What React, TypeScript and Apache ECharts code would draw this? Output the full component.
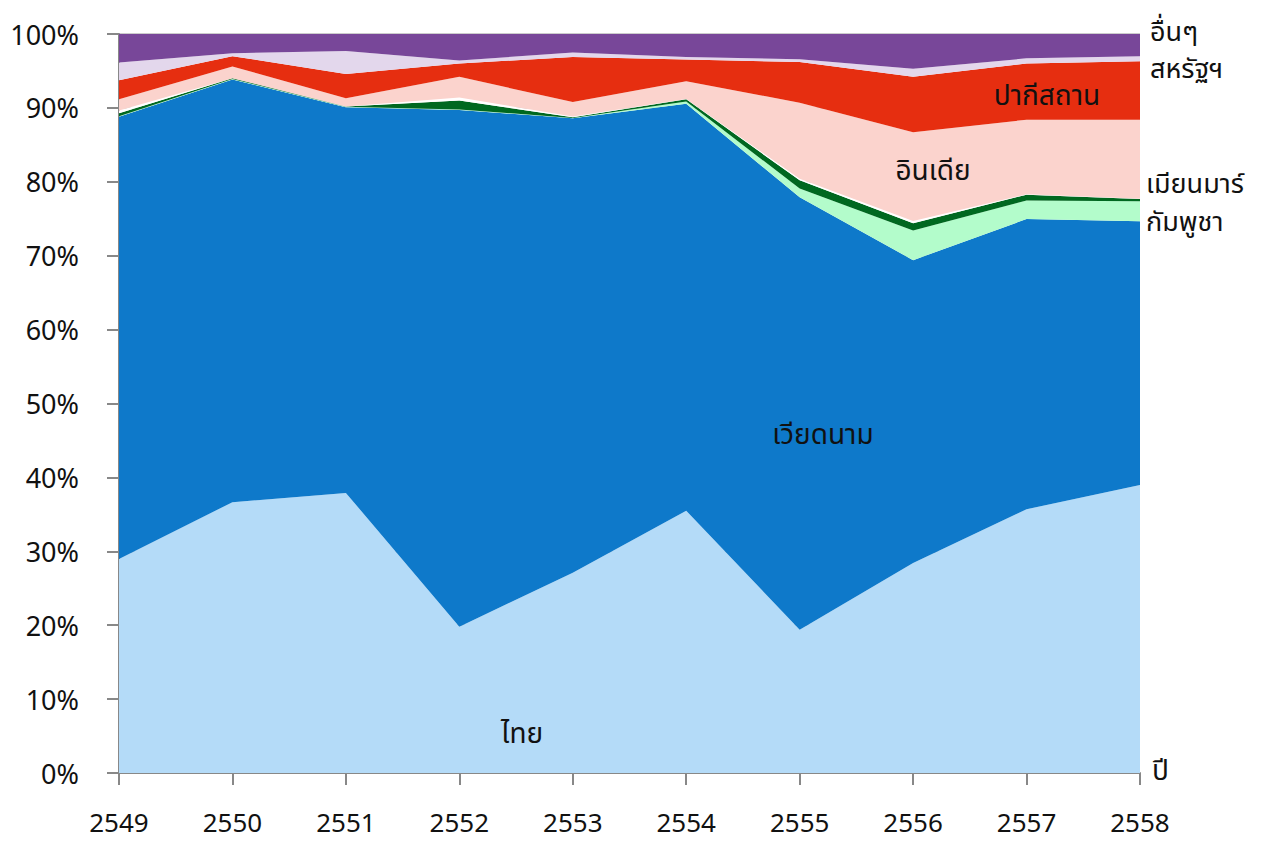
import React, { useEffect, useRef } from "react";
import * as echarts from "echarts";

const years = ["2549", "2550", "2551", "2552", "2553", "2554", "2555", "2556", "2557", "2558"];
const yTicks = [0, 10, 20, 30, 40, 50, 60, 70, 80, 90, 100];

const thai = [29.0, 36.7, 37.9, 19.8, 27.1, 35.5, 19.4, 28.4, 35.7, 39.0];
const vietnam = [59.9, 57.3, 52.2, 69.9, 61.5, 55.1, 58.5, 41.0, 39.3, 35.7];
const cambodia = [0.05, 0.05, 0.05, 0.1, 0.05, 0.3, 1.2, 4.0, 2.5, 2.7];
const myanmar = [0.4, 0.1, 0.05, 1.2, 0.1, 0.3, 1.1, 1.0, 0.8, 0.3];
const unlabeled = [0.4, 0.0, 0.0, 0.4, 0.1, 0.05, 0.2, 0.3, 0.05, 0.05];
const india = [1.5, 1.6, 1.1, 2.8, 1.95, 2.4, 10.3, 12.0, 10.1, 10.7];
const pakistan = [2.6, 1.4, 3.3, 1.8, 6.1, 2.95, 5.5, 7.5, 7.6, 7.9];
const usa = [2.4, 0.4, 3.1, 0.4, 0.6, 0.35, 0.4, 1.1, 0.7, 0.7];
const others = [3.85, 2.6, 2.3, 3.6, 2.5, 3.1, 3.4, 4.7, 3.3, 3.0];

const seriesDefs = [
  { name: "ไทย", data: thai, color: "#B4DBF8" },
  { name: "เวียดนาม", data: vietnam, color: "#0E79CA" },
  { name: "กัมพูชา", data: cambodia, color: "#B3FCCB" },
  { name: "เมียนมาร์", data: myanmar, color: "#006820" },
  { name: "ไม่ระบุ", data: unlabeled, color: "#FFFFFF" },
  { name: "อินเดีย", data: india, color: "#FBD3CD" },
  { name: "ปากีสถาน", data: pakistan, color: "#E62E10" },
  { name: "สหรัฐฯ", data: usa, color: "#E3D7EC" },
  { name: "อื่นๆ", data: others, color: "#784799" },
];

const FONT = "'Noto Sans', 'Noto Sans Thai', sans-serif";

function toPct(arr: number[], i: number) {
  const total = seriesDefs.reduce((s, d) => s + d.data[i], 0);
  return (arr[i] / total) * 100;
}

export default function App() {
  const ref = useRef<HTMLDivElement>(null);
  useEffect(() => {
    if (!ref.current) return;
    const chart = echarts.init(ref.current, undefined, { renderer: "svg" });
    const label = (x: number, y: number, text: string, align = "center", size = 28) => ({
      type: "text",
      x,
      y,
      style: {
        text,
        fill: "#111",
        font: `${size}px ${FONT}`,
        textAlign: align,
        textVerticalAlign: "middle",
      },
      z: 100,
    });
    chart.setOption({
      animation: false,
      grid: { left: 119, right: 122, top: 34, bottom: 69, containLabel: false },
      xAxis: {
        type: "category",
        data: years,
        boundaryGap: false,
        axisLine: { lineStyle: { color: "#888", width: 2 } },
        axisTick: { length: 12, lineStyle: { color: "#888", width: 2 } },
        axisLabel: { color: "#111", fontSize: 26, fontFamily: FONT, margin: 36 },
        splitLine: { show: false },
      },
      yAxis: {
        type: "value",
        min: 0,
        max: 100,
        interval: 10,
        axisLine: { show: true, lineStyle: { color: "#888", width: 2 } },
        axisTick: { show: true, length: 12, lineStyle: { color: "#888", width: 2 } },
        axisLabel: {
          color: "#111",
          fontSize: 27,
          fontFamily: FONT,
          margin: 40,
          formatter: (v: number) => (yTicks.includes(v) ? `${v}%` : ""),
        },
        splitLine: { show: true, lineStyle: { color: "#cccccc", width: 2 } },
      },
      series: seriesDefs.map((d) => ({
        name: d.name,
        type: "line",
        stack: "total",
        symbol: "none",
        lineStyle: { width: 0 },
        itemStyle: { color: d.color },
        areaStyle: { color: d.color, opacity: 1 },
        data: d.data.map((_, i) => toPct(d.data, i)),
      })),
      graphic: [
        label(522, 732, "ไทย"),
        label(823, 433, "เวียดนาม"),
        label(933, 169, "อินเดีย"),
        label(1047, 94, "ปากีสถาน"),
        label(1150, 30, "อื่นๆ", "left", 27),
        label(1150, 67, "สหรัฐฯ", "left", 27),
        label(1146, 182, "เมียนมาร์", "left", 27),
        label(1146, 220, "กัมพูชา", "left", 27),
        label(1152, 769, "ปี", "left"),
      ],
    });
    return () => chart.dispose();
  }, []);
  return <div ref={ref} style={{ width: 1262, height: 842, margin: -8 }} />;
}
